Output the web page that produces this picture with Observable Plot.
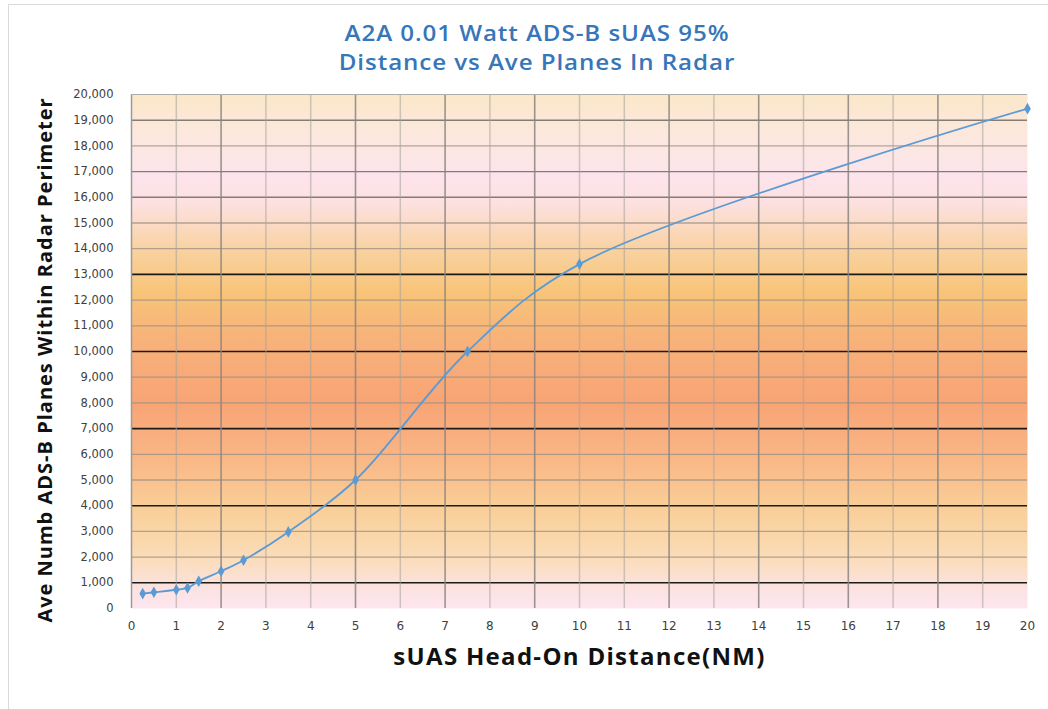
<!DOCTYPE html>
<html>
<head>
<meta charset="utf-8">
<script src="https://cdn.jsdelivr.net/npm/d3@7"></script>
<script src="https://cdn.jsdelivr.net/npm/@observablehq/plot@0.6"></script>
<style>
  html, body { margin: 0; padding: 0; background: #fff; }
  #wrap { position: relative; width: 1048px; height: 709px; overflow: hidden; }
  #border { position: absolute; left: 8px; top: 4px; width: 1100px; height: 800px; border-top: 1px solid #d9d9d9; border-left: 1px solid #d9d9d9; }
  .title { position: absolute; left: 537px; white-space: nowrap; transform: translate(-50%, -50%) scaleX(1.15); font-family: "Open Sans", sans-serif; font-weight: 600; font-size: 21px; letter-spacing: 0.8px; line-height: 28px; color: #3776b8; }
  #t1 { top: 33px; }
  #t2 { top: 62px; }
  #ylabel { position: absolute; left: 44px; top: 360px; transform: translate(-50%, -50%) rotate(-90deg); white-space: nowrap; font-family: "Open Sans", sans-serif; font-weight: 700; font-size: 20px; letter-spacing: 1px; color: #111; }
  #chart { position: absolute; left: 0; top: 0; }
</style>
</head>
<body>
<div id="wrap">
  <div id="border"></div>
  <div class="title" id="t1">A2A 0.01 Watt ADS-B sUAS 95%</div>
  <div class="title" id="t2">Distance vs Ave Planes In Radar</div>
  <div id="chart"></div>
  <div id="ylabel"></div>
</div>
<script>
// Data
const distanceNM = [0.25, 0.5, 1, 1.25, 1.5, 2, 2.5, 3.5, 5, 7.5, 10, 20];
const avePlanes  = [580, 630, 730, 800, 1060, 1450, 1880, 2980, 5000, 10000, 13400, 19450];

// Tick values
const xTicks = d3.range(0, 21);
const yTicks = d3.range(0, 20001, 1000);
// Grid lines as they appear (darker / lighter)
const yGridDark = [1000, 4000, 7000, 10000, 13000];
const yGridMid = [16000, 17000, 19000];
const yGridLight = [2000, 3000, 5000, 6000, 8000, 9000, 11000, 12000, 14000, 15000, 18000];
const xGridDark = [2, 5, 7, 9, 12, 14, 16, 18];
const xGridLight = [1, 3, 4, 6, 8, 10, 11, 13, 15, 17, 19];

const xLabel = "sUAS Head-On Distance(NM)";
const yLabel = "Ave Numb ADS-B Planes Within Radar Perimeter";
document.getElementById("ylabel").textContent = yLabel;

const data = distanceNM.map((d, i) => ({x: d, y: avePlanes[i]}));

const plot = Plot.plot({
  width: 1048,
  height: 709,
  marginLeft: 131,
  marginRight: 21,
  marginTop: 94,
  marginBottom: 101,
  style: {background: "transparent", fontFamily: "DejaVu Sans, sans-serif"},
  x: {domain: [0, 20], ticks: xTicks, tickSize: 0, tickPadding: 13, label: null},
  y: {domain: [0, 20000], ticks: yTicks, tickSize: 0, tickPadding: 19, tickFormat: d3.format(","), label: null},
  marks: [
    Plot.frame({fill: "url(#bgGrad)", stroke: "none"}),
    Plot.ruleY(yGridLight, {stroke: "#9a8f84", strokeOpacity: 0.75, strokeWidth: 1.3}),
    Plot.ruleY(yGridMid, {stroke: "#6e6a66", strokeOpacity: 0.85, strokeWidth: 1.4}),
    Plot.ruleY(yGridDark, {stroke: "#1a1a1a", strokeWidth: 1.6}),
    Plot.ruleX(xGridLight, {stroke: "#a8a29a", strokeOpacity: 0.55, strokeWidth: 1.5}),
    Plot.ruleX(xGridDark, {stroke: "#8a8580", strokeOpacity: 0.85, strokeWidth: 1.6}),
    Plot.ruleX([0], {stroke: "#9a9a9a", strokeWidth: 1.5}),
    Plot.ruleY([20000], {stroke: "#b0aca8", strokeWidth: 1.2}),
    Plot.axisX({ticks: xTicks, tickSize: 0, tickPadding: 13, fontSize: 12, fill: "#404040", label: null}),
    Plot.axisY({ticks: yTicks, tickSize: 0, tickPadding: 18, tickFormat: d3.format(","), fontSize: 11.5, fill: "#404040", label: null}),
    Plot.line(data, {x: "x", y: "y", stroke: "#5b9bd5", strokeWidth: 1.8, curve: "catmull-rom"}),
    Plot.dot(data, {x: "x", y: "y", symbol: "diamond", r: 2.6, fill: "#5b9bd5", stroke: "#5b9bd5"}),
    Plot.text([xLabel], {frameAnchor: "bottom", dy: 56, fontSize: 24, fontWeight: "bold", fill: "#111", fontFamily: "Open Sans, sans-serif"})
  ]
});

// gradient background like the original
const svg = d3.select(plot);
const defs = svg.insert("defs", ":first-child");
const grad = defs.append("linearGradient").attr("id", "bgGrad").attr("x1", 0).attr("y1", 0).attr("x2", 0).attr("y2", 1);
const stops = [
  [0.00, "#fbe7c8"], [0.07, "#fce8dc"], [0.16, "#fde4ec"], [0.21, "#fde1e2"],
  [0.30, "#f9d2a2"], [0.385, "#f8c478"], [0.47, "#f7b37a"], [0.60, "#f8a475"],
  [0.70, "#f9b585"], [0.80, "#f9ce96"], [0.90, "#fbdcb8"], [0.97, "#fce3e6"], [1.00, "#fde6ee"]
];
stops.forEach(([o, c]) => grad.append("stop").attr("offset", o).attr("stop-color", c));
// letter spacing for the x label
svg.selectAll("text").filter(function() { return this.textContent === xLabel; }).style("letter-spacing", "1.3px");

document.getElementById("chart").appendChild(plot);
</script>
</body>
</html>
